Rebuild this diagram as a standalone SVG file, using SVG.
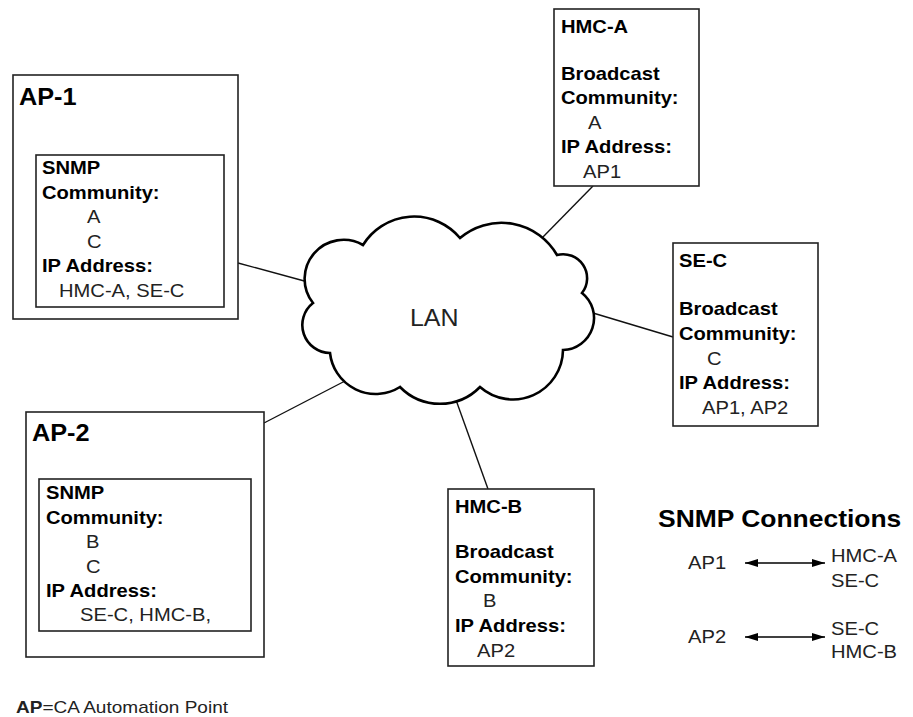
<svg xmlns="http://www.w3.org/2000/svg" width="913" height="717" viewBox="0 0 913 717">
<style>
  .box { fill: #fff; stroke: #222; stroke-width: 1.6; }
  .cloud { fill: #fff; stroke: #000; stroke-width: 2.6; stroke-linejoin: miter; }
  .ln { stroke: #111; stroke-width: 1.4; fill: none; }
  .arr { stroke: #000; stroke-width: 1.4; fill: none; marker-start: url(#ah); marker-end: url(#ah); }
  text { font-family: "Liberation Sans", Arial, sans-serif; }
  .b { font-size: 18px; font-weight: bold; fill: #000; }
  .r { font-size: 18px; fill: #222; }
  .t { font-size: 23px; font-weight: bold; fill: #000; }
  .lan { font-size: 24px; fill: #222; }
  .f { font-size: 17px; fill: #222; }
</style>
<defs>
  <marker id="ah" viewBox="0 0 13 8" markerWidth="13" markerHeight="8" refX="13" refY="4" orient="auto-start-reverse" markerUnits="userSpaceOnUse">
    <path d="M0,0 L13,4 L0,8 Z" fill="#000"/>
  </marker>
</defs>
<rect width="913" height="717" fill="#fff"/>

<g id="connectors">
  <line class="ln" x1="238" y1="263" x2="308" y2="282"/>
  <line class="ln" x1="264" y1="423" x2="345" y2="381"/>
  <line class="ln" x1="593" y1="186" x2="541" y2="239"/>
  <line class="ln" x1="593" y1="313" x2="673" y2="337"/>
  <line class="ln" x1="456" y1="400" x2="488" y2="489"/>
</g>

<g id="lan">
  <path class="cloud" d="M363,245 A60,60 0 0 1 460,238 A64,64 0 0 1 557,255 A24,24 0 0 1 582,293 A32,32 0 0 1 563,350 A50,50 0 0 1 480,387 A56,56 0 0 1 400,387 A46,46 0 0 1 330,353 A28,28 0 0 1 313,303 A39,39 0 0 1 363,245 Z"/>
  <text class="lan" transform="matrix(1.04 0 0 1 410 326)">LAN</text>
</g>

<g id="ap1">
  <rect class="box" x="13" y="75" width="225" height="244"/>
  <text class="t" transform="matrix(1.1 0 0 1 19 105)">AP-1</text>
  <rect class="box" x="36" y="155" width="188" height="152"/>
  <text class="b" transform="matrix(1.12 0 0 1 42 174)">SNMP</text>
  <text class="b" transform="matrix(1.12 0 0 1 42 198.5)">Community:</text>
  <text class="r" transform="matrix(1.12 0 0 1 87 223)">A</text>
  <text class="r" transform="matrix(1.12 0 0 1 87 247.5)">C</text>
  <text class="b" transform="matrix(1.12 0 0 1 42 272)">IP Address:</text>
  <text class="r" transform="matrix(1.12 0 0 1 59 296.5)">HMC-A, SE-C</text>
</g>

<g id="ap2">
  <rect class="box" x="26" y="412" width="238" height="245"/>
  <text class="t" transform="matrix(1.1 0 0 1 32 441)">AP-2</text>
  <rect class="box" x="39" y="479" width="212" height="152"/>
  <text class="b" transform="matrix(1.12 0 0 1 46 499)">SNMP</text>
  <text class="b" transform="matrix(1.12 0 0 1 46 523.5)">Community:</text>
  <text class="r" transform="matrix(1.12 0 0 1 86 548)">B</text>
  <text class="r" transform="matrix(1.12 0 0 1 86 572.5)">C</text>
  <text class="b" transform="matrix(1.12 0 0 1 46 597)">IP Address:</text>
  <text class="r" transform="matrix(1.12 0 0 1 80 621)">SE-C, HMC-B,</text>
</g>

<g id="hmc-a">
  <rect class="box" x="554" y="9" width="145" height="177"/>
  <text class="b" transform="matrix(1.12 0 0 1 561 33)">HMC-A</text>
  <text class="b" transform="matrix(1.12 0 0 1 561 80)">Broadcast</text>
  <text class="b" transform="matrix(1.12 0 0 1 561 104)">Community:</text>
  <text class="r" transform="matrix(1.12 0 0 1 588 129)">A</text>
  <text class="b" transform="matrix(1.12 0 0 1 561 153)">IP Address:</text>
  <text class="r" transform="matrix(1.12 0 0 1 583 178)">AP1</text>
</g>

<g id="se-c">
  <rect class="box" x="673" y="243" width="145" height="183"/>
  <text class="b" transform="matrix(1.12 0 0 1 679 267)">SE-C</text>
  <text class="b" transform="matrix(1.12 0 0 1 679 315)">Broadcast</text>
  <text class="b" transform="matrix(1.12 0 0 1 679 340)">Community:</text>
  <text class="r" transform="matrix(1.12 0 0 1 707 365)">C</text>
  <text class="b" transform="matrix(1.12 0 0 1 679 389)">IP Address:</text>
  <text class="r" transform="matrix(1.12 0 0 1 702 414)">AP1, AP2</text>
</g>

<g id="hmc-b">
  <rect class="box" x="448" y="489" width="146" height="177"/>
  <text class="b" transform="matrix(1.12 0 0 1 455 513)">HMC-B</text>
  <text class="b" transform="matrix(1.12 0 0 1 455 558)">Broadcast</text>
  <text class="b" transform="matrix(1.12 0 0 1 455 583)">Community:</text>
  <text class="r" transform="matrix(1.12 0 0 1 483 607)">B</text>
  <text class="b" transform="matrix(1.12 0 0 1 455 632)">IP Address:</text>
  <text class="r" transform="matrix(1.12 0 0 1 477 657)">AP2</text>
</g>

<g id="snmp-connections">
  <text class="t" transform="matrix(1.15 0 0 1 658 527)">SNMP Connections</text>
  <text class="r" transform="matrix(1.12 0 0 1 688 569)">AP1</text>
  <line class="arr" x1="745" y1="563" x2="825" y2="563"/>
  <text class="r" transform="matrix(1.12 0 0 1 831 562)">HMC-A</text>
  <text class="r" transform="matrix(1.12 0 0 1 831 587)">SE-C</text>
  <text class="r" transform="matrix(1.12 0 0 1 688 643)">AP2</text>
  <line class="arr" x1="745" y1="637" x2="825" y2="637"/>
  <text class="r" transform="matrix(1.12 0 0 1 831 635)">SE-C</text>
  <text class="r" transform="matrix(1.12 0 0 1 831 658)">HMC-B</text>
</g>

<g id="legend">
  <text class="f" transform="matrix(1.12 0 0 1 16 713)"><tspan font-weight="bold">AP</tspan>=CA Automation Point</text>
</g>
</svg>
